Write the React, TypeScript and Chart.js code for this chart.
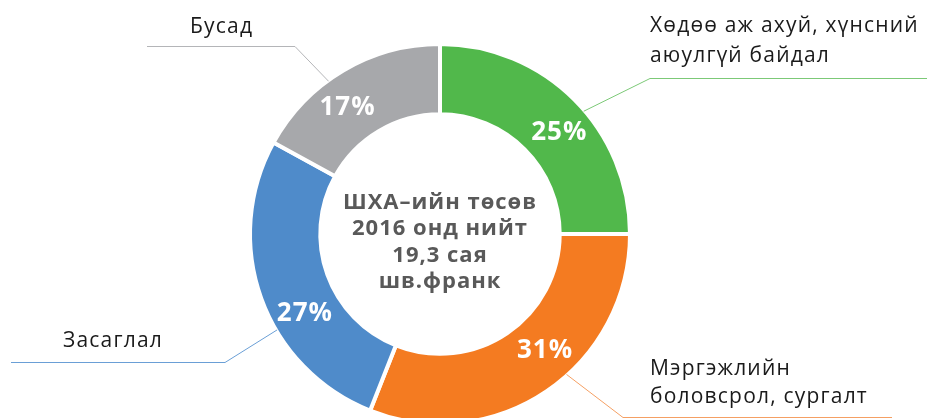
import React, { useEffect, useRef } from "react";
import { Chart, registerables } from "chart.js";

Chart.register(...registerables);

const categories = [
  "Хөдөө аж ахуй, хүнсний аюулгүй байдал",
  "Мэргэжлийн боловсрол, сургалт",
  "Засаглал",
  "Бусад",
];
const shares = [25, 31, 27, 17];
const percentLabels = ["25%", "31%", "27%", "17%"];
const labelLines = [
  ["Хөдөө аж ахуй, хүнсний", "аюулгүй байдал"],
  ["Мэргэжлийн", "боловсрол, сургалт"],
  ["Засаглал"],
  ["Бусад"],
];
const centerLines = ["ШХА–ийн төсөв", "2016 онд нийт", "19,3 сая", "шв.франк"];

const sliceColors = ["#51b84b", "#f47b21", "#4f8bca", "#a7a8ab"];
const leaderColors = ["#7cc977", "#f5a064", "#6a9fd6", "#b4b5b8"];

// annotation layout (label placement, not data)
const labelFrac = [0.55, 0.43, 0.39, 0.41];
const annotations = [
  { elbow: [650, 78], endX: 927, textX: 650, baselines: [32, 62] },
  { elbow: [623, 417], endX: 892, textX: 650, baselines: [375, 403] },
  { elbow: [225, 362], endX: 11, textX: 63, baselines: [347] },
  { elbow: [295, 46], endX: 147, textX: 190, baselines: [33] },
];

const FONT = "'Open Sans', 'Noto Sans', 'DejaVu Sans', sans-serif";

const labelPlugin = {
  id: "doughnutLabels",
  afterDraw(chart: any) {
    const ctx = chart.ctx as any;
    const meta = chart.getDatasetMeta(0);
    ctx.save();
    meta.data.forEach((arc: any, i: number) => {
      const p = arc.getProps(
        ["x", "y", "startAngle", "endAngle", "innerRadius", "outerRadius"],
        true
      );
      const a = p.startAngle + labelFrac[i] * (p.endAngle - p.startAngle);
      const rMid = (p.innerRadius + p.outerRadius) / 2 + 2;
      // percentage
      ctx.fillStyle = "#ffffff";
      ctx.font = `bold 26px ${FONT}`;
      ctx.letterSpacing = "1px";
      ctx.textAlign = "center";
      ctx.textBaseline = "middle";
      ctx.fillText(percentLabels[i], p.x + Math.cos(a) * rMid, p.y + Math.sin(a) * rMid);
      // leader line
      const ann = annotations[i];
      const sx = p.x + Math.cos(a) * (p.outerRadius - 1);
      const sy = p.y + Math.sin(a) * (p.outerRadius - 1);
      ctx.strokeStyle = leaderColors[i];
      ctx.lineWidth = 1;
      ctx.beginPath();
      ctx.moveTo(sx, sy);
      ctx.lineTo(ann.elbow[0], ann.elbow[1] + 0.5);
      ctx.lineTo(ann.endX, ann.elbow[1] + 0.5);
      ctx.stroke();
      // category label
      ctx.fillStyle = "#1a1a1a";
      ctx.font = `21px ${FONT}`;
      ctx.letterSpacing = "1.2px";
      ctx.textAlign = "left";
      ctx.textBaseline = "alphabetic";
      labelLines[i].forEach((line, j) => {
        ctx.fillText(line, ann.textX, ann.baselines[j]);
      });
    });
    // center text
    const first = meta.data[0];
    if (first) {
      const c = first.getProps(["x", "y"], true);
      ctx.fillStyle = "#595959";
      ctx.font = `bold 22px ${FONT}`;
      ctx.letterSpacing = "1px";
      ctx.textAlign = "center";
      ctx.textBaseline = "alphabetic";
      const spacing = 26.5;
      const startY = c.y - 25.5;
      centerLines.forEach((line, j) => {
        ctx.fillText(line, c.x, startY + j * spacing);
      });
    }
    ctx.restore();
  },
};

export default function App() {
  const ref = useRef<HTMLCanvasElement | null>(null);
  useEffect(() => {
    if (!ref.current) return;
    const chart = new Chart(ref.current, {
      type: "doughnut",
      data: {
        labels: categories,
        datasets: [
          {
            data: shares,
            backgroundColor: sliceColors,
            borderColor: "#ffffff",
            borderWidth: 4,
          },
        ],
      },
      options: {
        responsive: false,
        animation: false,
        cutout: "63%",
        layout: { padding: { top: 42, bottom: 54, left: 248, right: 295 } },
        plugins: {
          legend: { display: false },
          tooltip: { enabled: false },
          title: { display: false },
        },
      },
      plugins: [labelPlugin],
    });
    return () => chart.destroy();
  }, []);
  return (
    <div
      style={{
        position: "absolute",
        left: 0,
        top: 0,
        width: 927,
        height: 418,
        overflow: "hidden",
        background: "#ffffff",
      }}
    >
      <canvas ref={ref} width={927} height={480} style={{ display: "block" }} />
    </div>
  );
}
